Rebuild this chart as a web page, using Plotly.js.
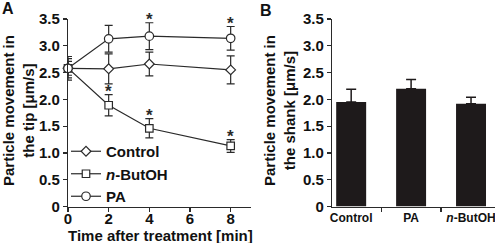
<!DOCTYPE html>
<html><head><meta charset="utf-8">
<script src="https://cdn.plot.ly/plotly-3.0.1.min.js"></script>
<style>html,body{margin:0;padding:0;background:#fff}#chart{width:495px;height:243px}</style>
</head><body><div id="chart"></div>
<script>
// Panel A data
const times = [0, 2, 4, 8];
const controlTip = [2.58, 2.57, 2.66, 2.55];
const controlTipErr = [0.18, 0.28, 0.22, 0.26];
const butohTip = [2.58, 1.89, 1.46, 1.13];
const butohTipErr = [0.22, 0.20, 0.18, 0.12];
const paTip = [2.58, 3.13, 3.18, 3.14];
const paTipErr = [0.13, 0.25, 0.25, 0.22];
const butohSig = [false, true, true, true];
const paSig = [false, false, true, true];
const xTicks = [0, 2, 4, 6, 8];
// Panel B data
const shankCats = ['Control', 'PA', '<i>n</i>-ButOH'];
const shankVals = [1.95, 2.20, 1.92];
const shankErr = [0.24, 0.17, 0.12];
const yTicks = [0, 0.5, 1, 1.5, 2, 2.5, 3, 3.5];
const yTickText = ['0', '0.5', '1.0', '1.5', '2.0', '2.5', '3.0', '3.5'];
const yMax = 3.5;

const FONT = 'Liberation Sans, Arial, sans-serif';
const ink = '#2a2a2a';
const W = 495, H = 243;
const px = v => v / W, py = v => 1 - v / H;
const b = s => '<b>' + s + '</b>';

function lineTrace(name, y, err, symbol, size) {
  return {
    x: times, y: y, name: b(name), type: 'scatter', mode: 'lines+markers',
    xaxis: 'x', yaxis: 'y', cliponaxis: false,
    line: {color: ink, width: 1.2},
    marker: {symbol: symbol, size: size, color: '#fff', line: {color: ink, width: 1.2}},
    error_y: {type: 'data', array: err, visible: true, color: ink, thickness: 1.2, width: 4}
  };
}
const traces = [
  lineTrace('Control', controlTip, controlTipErr, 'diamond', 7.5),
  lineTrace('<i>n</i>-ButOH', butohTip, butohTipErr, 'square', 7.5),
  lineTrace('PA', paTip, paTipErr, 'circle', 8.5),
  {
    x: shankCats.map(b), y: shankVals, type: 'bar', xaxis: 'x2', yaxis: 'y2', showlegend: false,
    width: 0.5, marker: {color: '#1e1a1b', line: {width: 0}},
    error_y: {type: 'data', array: shankErr, arrayminus: [0, 0, 0], symmetric: false, visible: true, color: '#1e1a1b', thickness: 1.5, width: 5}
  }
];

const annotations = [];
function addStars(y, err, sig) {
  times.forEach((t, i) => {
    if (sig[i]) annotations.push({x: t, y: (y[i] + err[i] + 0.06) / yMax, xref: 'x', yref: 'y domain', text: b('*'), showarrow: false,
      xanchor: 'center', yanchor: 'middle', font: {family: FONT, size: 17, color: ink}});
  });
}
addStars(butohTip, butohTipErr, butohSig);
addStars(paTip, paTipErr, paSig);
annotations.push(
  {x: px(8), y: py(9), xref: 'paper', yref: 'paper', text: b('A'), showarrow: false, xanchor: 'center', yanchor: 'middle', font: {family: FONT, size: 16, color: '#111'}},
  {x: px(266), y: py(10), xref: 'paper', yref: 'paper', text: b('B'), showarrow: false, xanchor: 'center', yanchor: 'middle', font: {family: FONT, size: 16, color: '#111'}},
  {x: px(18), y: py(111), xref: 'paper', yref: 'paper', text: b('Particle movement in<br>the tip [μm/s]'), textangle: -90, showarrow: false, xanchor: 'center', yanchor: 'middle', font: {family: FONT, size: 15, color: '#111'}},
  {x: px(279), y: py(111), xref: 'paper', yref: 'paper', text: b('Particle movement in<br>the shank [μm/s]'), textangle: -90, showarrow: false, xanchor: 'center', yanchor: 'middle', font: {family: FONT, size: 15, color: '#111'}},
  {x: px(160), y: py(235.5), xref: 'paper', yref: 'paper', text: b('Time after treatment [min]'), showarrow: false, xanchor: 'center', yanchor: 'middle', font: {family: FONT, size: 15, color: '#111'}}
);

const axisCommon = {showline: true, linecolor: ink, linewidth: 1.2, ticks: 'outside', ticklen: 4, tickwidth: 1.2, tickcolor: ink, showgrid: false, zeroline: false, fixedrange: true};
const tickFont = {family: FONT, size: 15, color: '#111'};
const yDomain = [1 - 206.5 / H, 1 - 19 / H];

const layout = {
  width: W, height: H, margin: {l: 0, r: 0, t: 0, b: 0},
  paper_bgcolor: '#fff', plot_bgcolor: '#fff',
  font: {family: FONT, color: '#111'},
  xaxis: Object.assign({}, axisCommon, {domain: [px(68), px(251)], range: [0, 9], tickvals: xTicks, ticktext: xTicks.map(v => b(v)), tickfont: tickFont, ticklabelstandoff: -6, anchor: 'y'}),
  yaxis: Object.assign({}, axisCommon, {domain: yDomain, range: [0, yMax], tickvals: yTicks, ticktext: yTickText.map(b), tickfont: tickFont, anchor: 'x'}),
  xaxis2: Object.assign({}, axisCommon, {domain: [px(332), 1], range: [-0.32, 2.4], type: 'category', tickson: 'boundaries', tickfont: {family: FONT, size: 12, color: '#111'}, anchor: 'y2'}),
  yaxis2: Object.assign({}, axisCommon, {domain: yDomain, range: [0, yMax], tickvals: yTicks, ticktext: yTickText.map(b), tickfont: tickFont, anchor: 'x2'}),
  showlegend: true,
  legend: {x: px(66), y: py(135), xanchor: 'left', yanchor: 'top', bgcolor: 'rgba(0,0,0,0)', font: {family: FONT, size: 15, color: '#111'}, itemwidth: 30, tracegroupgap: 0},
  annotations: annotations
};
Plotly.newPlot('chart', traces, layout, {staticPlot: true, displayModeBar: false});
</script></body></html>
